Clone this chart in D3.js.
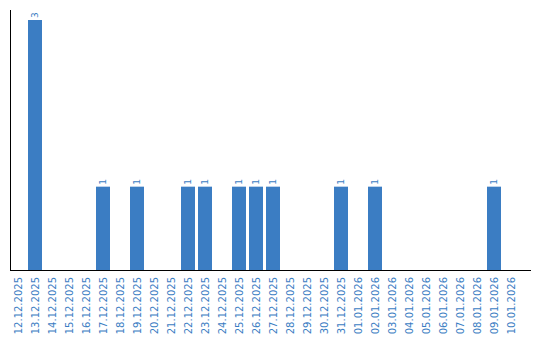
<!DOCTYPE html>
<html>
<head>
<meta charset="utf-8">
<script src="https://cdn.jsdelivr.net/npm/d3@7"></script>
<style>
  body { margin: 0; background: #fff; }
  svg { display: block; }
</style>
</head>
<body>
<svg id="chart"></svg>
<script>
var dates = [
  "12.12.2025", "13.12.2025", "14.12.2025", "15.12.2025", "16.12.2025",
  "17.12.2025", "18.12.2025", "19.12.2025", "20.12.2025", "21.12.2025",
  "22.12.2025", "23.12.2025", "24.12.2025", "25.12.2025", "26.12.2025",
  "27.12.2025", "28.12.2025", "29.12.2025", "30.12.2025", "31.12.2025",
  "01.01.2026", "02.01.2026", "03.01.2026", "04.01.2026", "05.01.2026",
  "06.01.2026", "07.01.2026", "08.01.2026", "09.01.2026", "10.01.2026"
];
var counts = [
  0, 3, 0, 0, 0,
  1, 0, 1, 0, 0,
  1, 1, 0, 1, 1,
  1, 0, 0, 0, 1,
  0, 1, 0, 0, 0,
  0, 0, 0, 1, 0
];

var blue = "#3b7dc3";

var dimensions = {
  width: 540,
  height: 340,
  margin: { top: 10, right: 9, bottom: 70, left: 11 }
};
dimensions.boundedHeight =
  dimensions.height - dimensions.margin.top - dimensions.margin.bottom;

var data = dates.map(function (d, i) {
  return { date: d, count: counts[i] };
});

var svg = d3
  .select("#chart")
  .attr("width", dimensions.width)
  .attr("height", dimensions.height);

var xScale = d3
  .scaleBand()
  .domain(dates)
  .range([dimensions.margin.left, dimensions.margin.left + 17 * 30 - 3])
  .paddingInner(3 / 17)
  .paddingOuter(0);

var yScale = d3
  .scaleLinear()
  .domain([0, 3])
  .range([dimensions.height - dimensions.margin.bottom, 20]);

// bars
svg
  .append("g")
  .selectAll("rect")
  .data(data.filter(function (d) { return d.count > 0; }))
  .enter()
  .append("rect")
  .attr("x", function (d) { return xScale(d.date); })
  .attr("width", xScale.bandwidth())
  .attr("y", function (d) { return yScale(d.count); })
  .attr("height", function (d) { return yScale(0) - yScale(d.count); })
  .attr("fill", blue);

// value labels
svg
  .append("g")
  .selectAll("text")
  .data(data.filter(function (d) { return d.count > 0; }))
  .enter()
  .append("text")
  .attr("transform", function (d) {
    var cx = xScale(d.date) + xScale.bandwidth() / 2;
    return "translate(" + cx + "," + (yScale(d.count) - 2) + ") rotate(-90)";
  })
  .attr("dy", "0.35em")
  .attr("font-family", "DejaVu Sans, Verdana, sans-serif")
  .attr("font-size", 9)
  .attr("fill", blue)
  .text(function (d) { return d.count; });

// x axis
var xAxis = d3.axisBottom(xScale).tickSize(0).tickSizeOuter(0);

var xg = svg
  .append("g")
  .attr("transform", "translate(0," + yScale(0) + ")")
  .call(xAxis);
xg.select(".domain").remove();
xg.selectAll("text")
  .attr("font-family", "DejaVu Sans, Verdana, sans-serif")
  .attr("font-size", 10)
  .attr("fill", blue)
  .style("text-anchor", "end")
  .attr("x", -7)
  .attr("y", 0)
  .attr("dy", "0.35em")
  .attr("transform", "rotate(-90)");

svg
  .append("line")
  .attr("x1", dimensions.margin.left)
  .attr("x2", dimensions.width - dimensions.margin.right)
  .attr("y1", yScale(0) + 0.5)
  .attr("y2", yScale(0) + 0.5)
  .attr("stroke", "#000");

// y axis line only
svg
  .append("line")
  .attr("x1", dimensions.margin.left - 0.5)
  .attr("x2", dimensions.margin.left - 0.5)
  .attr("y1", dimensions.margin.top)
  .attr("y2", yScale(0) + 1)
  .attr("stroke", "#000");
</script>
</body>
</html>
